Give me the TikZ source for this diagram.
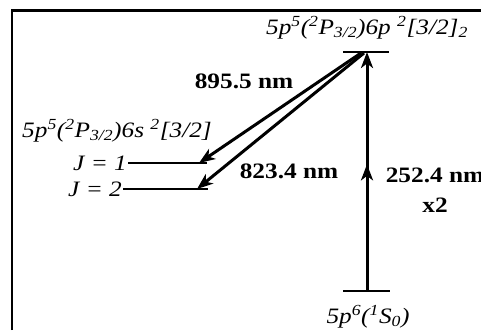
\documentclass[tikz,border=0pt]{standalone}
\usepackage{fontspec}
\setmainfont{Liberation Serif}[FakeStretch=1.15]
\usepackage{tikz}
\usetikzlibrary{arrows.meta,positioning,decorations.markings}
\tikzset{
  niv/.style={line width=2.5pt},
  arr/.style={-{Stealth[length=16pt,width=12pt,inset=4.5pt]}, line width=3pt},
  etat/.style={font=\fontsize{22}{26}\selectfont\itshape, inner sep=0pt},
  lam/.style={font=\fontsize{22}{26}\selectfont\bfseries, inner sep=0pt},
}

\begin{document}
\begin{tikzpicture}[x=1pt,y=-1pt]
    \useasboundingbox (0,0) rectangle (481,330);
    \draw[line width=2.5pt] (12,330) -- (12,10.5) -- (481,10.5);
    % niveaux
    \coordinate (hautG) at (343,52);  \coordinate (hautD) at (389,52);
    \coordinate (fondG) at (343,291); \coordinate (fondD) at (390,291);
    \coordinate (j1G) at (128,163);   \coordinate (j1D) at (207,163);
    \coordinate (j2G) at (123,189);   \coordinate (j2D) at (208,189);
    \draw[niv] (hautG) -- (hautD);
    \draw[niv] (fondG) -- (fondD);
    \draw[niv] (j1G) -- (j1D);
    \draw[niv] (j2G) -- (j2D);
    \node[etat, anchor=base] (e6p) at (367,34)
      {5p\textsuperscript{5}(\textsuperscript{2}P\textsubscript{3/2})6p \textsuperscript{2}[3/2]\textsubscript{2}};
    \node[etat, anchor=base] (e0) at (368,323)
      {5p\textsuperscript{6}(\textsuperscript{1}S\textsubscript{0})};
    \node[etat, anchor=base west] (e6s) at (22,137)
      {5p\textsuperscript{5}(\textsuperscript{2}P\textsubscript{3/2})6s \textsuperscript{2}[3/2]};
    \node[etat, left=1pt of j1G] (j1) {J = 1};
    \node[etat, left=1pt of j2G] (j2) {J = 2};
    % transitions
    \coordinate (bas) at (367,291);   \coordinate (haut) at (367,52);
    \coordinate (dep1) at (361,53);   \coordinate (dep2) at (364,53);
    \coordinate (arr1) at (199,163);  \coordinate (arr2) at (197,189);
    \draw[arr, decoration={markings, mark=at position 0.53 with {\arrow{Stealth[length=16pt,width=12pt,inset=4.5pt]}}},
          postaction={decorate}] (bas) -- (haut);
    \draw[arr] (dep1) -- (arr1);
    \draw[arr] (dep2) -- (arr2);
    \node[lam, anchor=base] (l895) at (244,88) {895.5 nm};
    \node[lam, anchor=base] (l823) at (289,178) {823.4 nm};
    \node[lam, anchor=base] (l252) at (435,182) {252.4 nm};
    \node[lam, anchor=base] (fois2) at (435,212) {x2};
\end{tikzpicture}
\end{document}
